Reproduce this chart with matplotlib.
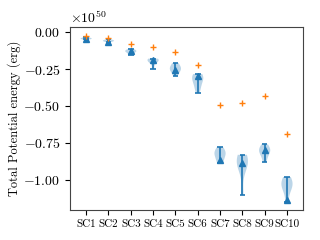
import numpy as np
import matplotlib
matplotlib.use('Agg')
import matplotlib.pyplot as plt

plt.rcParams['font.family'] = 'serif'
plt.rcParams['font.serif'] = ['cmr10']
plt.rcParams['mathtext.fontset'] = 'cm'
plt.rcParams['axes.formatter.use_mathtext'] = True
plt.rcParams['axes.unicode_minus'] = True

SCALE = 1e50

labels = ['SC1', 'SC2', 'SC3', 'SC4', 'SC5', 'SC6', 'SC7', 'SC8', 'SC9', 'SC10']

# sampled totals per case (units of 1e50 erg)
samples = [
    [-0.035, -0.040, -0.042, -0.045, -0.047, -0.050],
    [-0.050, -0.055, -0.058, -0.060, -0.063, -0.068],
    [-0.117, -0.125, -0.128, -0.132, -0.140, -0.155],
    [-0.180, -0.185, -0.190, -0.195, -0.200, -0.250],
    [-0.210, -0.230, -0.245, -0.255, -0.265, -0.300],
    [-0.284, -0.295, -0.305, -0.320, -0.345, -0.370, -0.410],
    [-0.780, -0.800, -0.815, -0.825, -0.840, -0.865, -0.885],
    [-0.830, -0.850, -0.865, -0.880, -0.895, -0.920, -1.100],
    [-0.760, -0.780, -0.795, -0.805, -0.815, -0.840, -0.880],
    [-0.980, -1.000, -1.020, -1.035, -1.050, -1.080, -1.150],
]
final_vals = [-0.045, -0.065, -0.128, -0.19, -0.255, -0.30, -0.865, -0.885, -0.80, -1.135]
reference_vals = [-0.027, -0.04, -0.08, -0.10, -0.135, -0.22, -0.49, -0.48, -0.43, -0.69]
yticks = [0.0, -0.25, -0.5, -0.75, -1.0]

pos = np.arange(1, len(labels) + 1)

fig = plt.figure(figsize=(3.2, 2.4), dpi=100)
ax = fig.add_axes([0.219, 0.125, 0.728, 0.7625])

vp = ax.violinplot([np.array(s) * SCALE for s in samples], positions=pos, widths=0.5)
for b in vp['bodies']:
    b.set_facecolor('C0')
    b.set_alpha(0.3)
for key in ('cbars', 'cmins', 'cmaxes'):
    vp[key].set_color('C0')
    vp[key].set_linewidth(1.2)

ax.plot(pos, np.array(final_vals) * SCALE, '^', color='C0', markersize=4)
ax.plot(pos, np.array(reference_vals) * SCALE, '+', color='C1', markersize=4, mew=1)

ax.set_xticks(pos)
ax.set_xticklabels(labels, fontsize=8)
ax.set_yticks(np.array(yticks) * SCALE)
ax.tick_params(axis='y', labelsize=10)
ax.set_xlim(0.28, 10.72)
ax.set_ylim(-1.203 * SCALE, 0.034 * SCALE)
ax.yaxis.get_offset_text().set_fontsize(10)
ax.set_ylabel('Total Potential energy (erg)', fontsize=9, labelpad=2)
for s in ax.spines.values():
    s.set_color('#444444')

fig.savefig('out.png', dpi=100)
